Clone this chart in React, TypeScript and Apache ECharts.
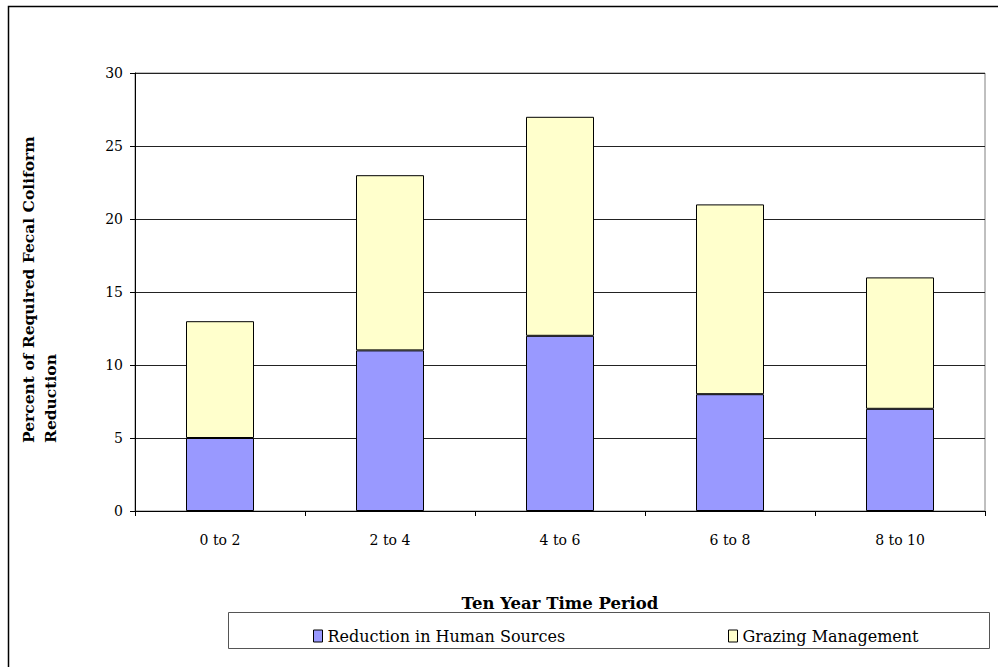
import React, { useEffect, useRef } from "react";
import * as echarts from "echarts";

const categories = ["0 to 2", "2 to 4", "4 to 6", "6 to 8", "8 to 10"];
const humanSources = [5, 11, 12, 8, 7];
const grazing = [8, 12, 15, 13, 9];
const seriesNames = ["Reduction in Human Sources", "Grazing Management"];
const yTitle = "Percent of Required Fecal Coliform\nReduction";
const xTitle = "Ten Year Time Period";

const FONT = "DejaVu Serif";

export default function App() {
  const ref = useRef<HTMLDivElement>(null);
  useEffect(() => {
    if (!ref.current) return;
    const chart = echarts.init(ref.current, null, { renderer: "svg" });
    const legendText = { fontFamily: FONT, fontSize: 16, color: "#000" };
    chart.setOption({
      animation: false,
      backgroundColor: "#fff",
      grid: {
        left: 135,
        right: 13,
        top: 73,
        bottom: 156,
        show: true,
        borderColor: "#808080",
        borderWidth: 1,
        backgroundColor: "transparent",
      },
      legend: [
        {
          data: [seriesNames[0]],
          left: 308,
          top: 623,
          itemWidth: 9,
          itemHeight: 12,
          icon: "rect",
          textStyle: legendText,
          itemStyle: { borderColor: "#000", borderWidth: 1 },
        },
        {
          data: [seriesNames[1]],
          left: 723,
          top: 623,
          itemWidth: 9,
          itemHeight: 12,
          icon: "rect",
          textStyle: legendText,
          itemStyle: { borderColor: "#000", borderWidth: 1 },
        },
      ],
      xAxis: {
        type: "category",
        data: categories,
        name: xTitle,
        nameLocation: "middle",
        nameGap: 84,
        nameTextStyle: { fontFamily: FONT, fontSize: 16.5, fontWeight: "bold", color: "#000" },
        axisLine: { lineStyle: { color: "#000", width: 1 } },
        axisTick: { show: true, length: 5, inside: false, lineStyle: { color: "#000" } },
        axisLabel: { fontFamily: FONT, fontSize: 14, color: "#000", margin: 22 },
        splitLine: { show: false },
      },
      yAxis: {
        type: "value",
        min: 0,
        max: 30,
        interval: 5,
        axisLine: { show: true, lineStyle: { color: "#000", width: 1 } },
        axisTick: { show: true, length: 5, inside: false, lineStyle: { color: "#000" } },
        axisLabel: { fontFamily: FONT, fontSize: 14, color: "#000", margin: 12 },
        splitLine: { show: true, lineStyle: { color: "#222", width: 1 } },
      },
      series: [
        {
          name: seriesNames[0],
          type: "bar",
          stack: "total",
          data: humanSources,
          barWidth: "40%",
          itemStyle: { color: "#9999FF", borderColor: "#000", borderWidth: 1 },
        },
        {
          name: seriesNames[1],
          type: "bar",
          stack: "total",
          data: grazing,
          barWidth: "40%",
          itemStyle: { color: "#FFFFCC", borderColor: "#000", borderWidth: 1 },
        },
      ],
      graphic: [
        {
          type: "rect",
          shape: { x: 8.5, y: 6.5, width: 1000, height: 670 },
          style: { fill: "none", stroke: "#000", lineWidth: 1.5 },
          silent: true,
          z: 100,
        },
        {
          type: "rect",
          shape: { x: 228.5, y: 612.5, width: 761, height: 36 },
          style: { fill: "none", stroke: "#555", lineWidth: 1 },
          silent: true,
          z: -1,
        },
        {
          type: "text",
          x: 39,
          y: 443,
          rotation: Math.PI / 2,
          style: {
            text: yTitle,
            fontFamily: FONT,
            fontSize: 15.5,
            fontWeight: "bold",
            lineHeight: 22,
            fill: "#000",
            textAlign: "left",
            textVerticalAlign: "middle",
          },
        },
      ],
    });
    return () => chart.dispose();
  }, []);
  return (
    <div
      ref={ref}
      style={{ position: "absolute", left: 0, top: 0, width: 998, height: 667 }}
    />
  );
}
